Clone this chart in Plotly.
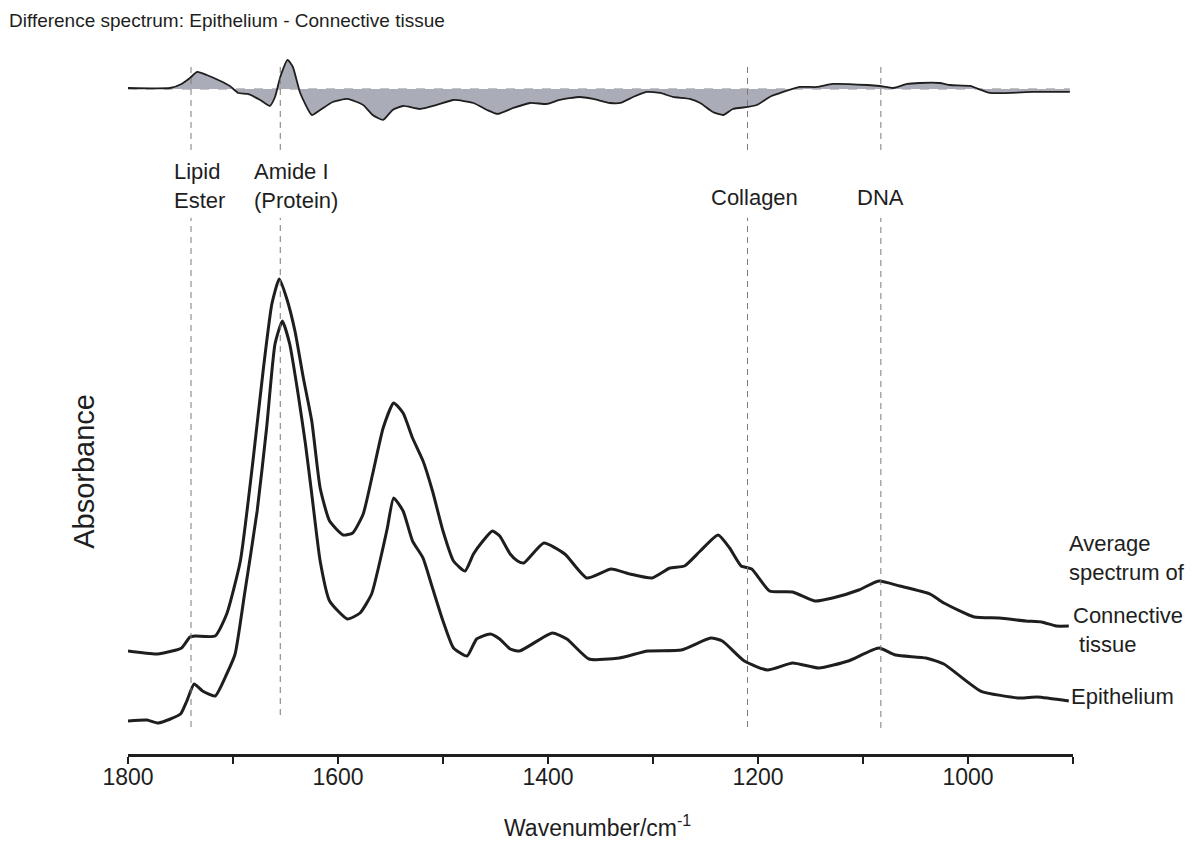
import plotly.graph_objects as go

# ---------------- data ----------------
wn_conn = [1800, 1772, 1749, 1741, 1736, 1717, 1706, 1693, 1681, 1671, 1663, 1656, 1649, 1641,
           1633, 1625, 1617, 1608, 1595, 1586, 1576, 1567, 1557, 1547, 1538, 1529, 1519, 1510,
           1500, 1490, 1479, 1471, 1462, 1453, 1446, 1436, 1429, 1423, 1404, 1384, 1363, 1340,
           1322, 1301, 1284, 1270, 1255, 1238, 1227, 1216, 1206, 1189, 1167, 1146, 1129, 1104,
           1085, 1065, 1036, 1023, 994, 970, 945, 930, 916, 904]
abs_conn = [0.206, 0.200, 0.212, 0.234, 0.236, 0.236, 0.280, 0.386, 0.586, 0.772, 0.900, 0.950,
            0.912, 0.846, 0.752, 0.666, 0.532, 0.466, 0.438, 0.442, 0.480, 0.560, 0.652, 0.702,
            0.682, 0.632, 0.586, 0.526, 0.446, 0.386, 0.366, 0.400, 0.426, 0.446, 0.436, 0.400,
            0.386, 0.382, 0.422, 0.400, 0.352, 0.370, 0.360, 0.352, 0.372, 0.376, 0.406, 0.438,
            0.412, 0.376, 0.370, 0.326, 0.324, 0.306, 0.312, 0.328, 0.346, 0.336, 0.320, 0.302,
            0.274, 0.272, 0.266, 0.264, 0.256, 0.256]

wn_epi = [1800, 1782, 1771, 1750, 1744, 1737, 1729, 1717, 1706, 1698, 1689, 1677, 1668, 1660,
          1653, 1646, 1638, 1631, 1625, 1617, 1608, 1591, 1579, 1568, 1560, 1553, 1547, 1538,
          1529, 1519, 1510, 1500, 1490, 1477, 1468, 1455, 1446, 1436, 1427, 1396, 1382, 1361,
          1332, 1305, 1273, 1245, 1234, 1213, 1191, 1167, 1142, 1114, 1085, 1069, 1040, 1023,
          988, 951, 934, 904]
abs_epi = [0.066, 0.068, 0.062, 0.080, 0.106, 0.140, 0.126, 0.116, 0.160, 0.200, 0.320, 0.486,
           0.652, 0.820, 0.866, 0.820, 0.720, 0.620, 0.520, 0.386, 0.306, 0.270, 0.282, 0.320,
           0.386, 0.452, 0.512, 0.486, 0.426, 0.392, 0.332, 0.266, 0.212, 0.196, 0.230, 0.240,
           0.230, 0.210, 0.206, 0.242, 0.230, 0.190, 0.192, 0.206, 0.208, 0.232, 0.226, 0.186,
           0.168, 0.182, 0.172, 0.186, 0.212, 0.198, 0.192, 0.180, 0.126, 0.112, 0.114, 0.106]

wn_diff = [1800, 1760, 1749, 1741, 1734, 1725, 1712, 1703, 1695, 1686, 1674, 1665, 1660, 1655,
           1648, 1643, 1636, 1625, 1617, 1605, 1591, 1576, 1567, 1557, 1548, 1538, 1522, 1506,
           1490, 1471, 1458, 1448, 1433, 1417, 1401, 1389, 1370, 1357, 1341, 1331, 1319, 1306,
           1293, 1281, 1265, 1255, 1243, 1233, 1224, 1210, 1201, 1189, 1176, 1160, 1144, 1129,
           1096, 1084, 1071, 1058, 1046, 1027, 1017, 998, 979, 938, 903]
diff_vals = [0.033, 0.033, 0.167, 0.367, 0.567, 0.467, 0.267, 0.100, -0.133, -0.167, -0.367,
             -0.567, -0.267, 0.400, 0.967, 0.733, -0.133, -0.867, -0.700, -0.433, -0.333, -0.533,
             -0.867, -1.033, -0.700, -0.567, -0.667, -0.533, -0.367, -0.467, -0.700, -0.833,
             -0.633, -0.467, -0.500, -0.367, -0.267, -0.333, -0.467, -0.467, -0.267, -0.100,
             -0.133, -0.267, -0.333, -0.467, -0.767, -0.867, -0.667, -0.600, -0.533, -0.267,
             -0.100, 0.067, 0.067, 0.167, 0.133, 0.100, 0.033, 0.167, 0.200, 0.200, 0.133,
             0.100, -0.133, -0.100, -0.100]

band_pos = [1740, 1655, 1210, 1083]
x_ticks = [1800, 1600, 1400, 1200, 1000]
x_minor_ticks = [1700, 1500, 1300, 1100, 900]

FONT = "Liberation Sans, Arial, Helvetica, sans-serif"
INK = "#1e1e1e"

fig = go.Figure()

fig.add_trace(go.Scatter(x=wn_conn, y=abs_conn, mode="lines",
                         line=dict(color=INK, width=3, shape="spline", smoothing=0.5),
                         showlegend=False, xaxis="x", yaxis="y"))
fig.add_trace(go.Scatter(x=wn_epi, y=abs_epi, mode="lines",
                         line=dict(color=INK, width=3, shape="spline", smoothing=0.5),
                         showlegend=False, xaxis="x", yaxis="y"))
fig.add_trace(go.Scatter(x=wn_diff, y=diff_vals, mode="lines", fill="tozeroy",
                         fillcolor="rgb(170,172,184)",
                         line=dict(color=INK, width=1.8, shape="spline", smoothing=0.5),
                         showlegend=False, xaxis="x2", yaxis="y2"))

# zero line of the difference spectrum
fig.add_shape(type="line", xref="x2", yref="y2", x0=wn_diff[0], x1=wn_diff[-1], y0=0, y1=0,
              line=dict(color="#8a8a8a", width=1, dash="dash"), layer="below")

# vertical band markers (two segments each, gap for labels)
bottom_ends = [0.0378, 0.0546, 0.0378, 0.0364]
for b, yb in zip(band_pos, bottom_ends):
    fig.add_shape(type="line", xref="x", yref="paper", x0=b, x1=b, y0=0.846, y1=0.968,
                  line=dict(color="#7a7a7a", width=1, dash="6px,5px"))
    fig.add_shape(type="line", xref="x", yref="paper", x0=b, x1=b, y0=yb, y1=0.751,
                  line=dict(color="#7a7a7a", width=1, dash="6px,5px"))

ann = []
def add_text(text, x, y, xref="paper", yref="paper", size=20, xanchor="left", align="left",
             textangle=0):
    ann.append(dict(text=text, x=x, y=y, xref=xref, yref=yref, showarrow=False,
                    font=dict(family=FONT, size=size, color=INK), xanchor=xanchor,
                    yanchor="middle", align=align, textangle=textangle))

add_text("Difference spectrum: Epithelium - Connective tissue", -0.128, 1.028, size=19)
add_text("Lipid<br>Ester", 1758, 0.795, xref="x", size=22)
add_text("Amide I<br>(Protein)", 1682, 0.795, xref="x", size=22)
add_text("Collagen", 1203, 0.780, xref="x", size=22, xanchor="center", align="center")
add_text("DNA", 1083, 0.780, xref="x", size=22, xanchor="center", align="center")
add_text("Average<br>spectrum of", 0.994, 0.2745, size=22)
add_text("Connective<br> tissue", 0.998, 0.174, size=22)
add_text("Epithelium", 0.996, 0.080, size=22)
add_text("Absorbance", -0.046, 0.396, size=29, xanchor="center", align="center", textangle=-90)
add_text("Wavenumber/cm<sup>-1</sup>", 0.497, -0.101, size=23, xanchor="center", align="center")

fig.update_layout(
    width=1200, height=866,
    margin=dict(l=120, r=135, t=32, b=120),
    paper_bgcolor="white", plot_bgcolor="white",
    font=dict(family=FONT, color=INK),
    annotations=ann,
    xaxis=dict(range=[1800, 900], domain=[0, 1], anchor="y",
               showline=True, linecolor=INK, linewidth=3, mirror=False,
               showgrid=False, zeroline=False,
               tickmode="array", tickvals=x_ticks,
               ticks="outside", ticklen=7, tickwidth=2, tickcolor=INK,
               ticklabelstandoff=-7,
               tickfont=dict(family=FONT, size=23, color=INK),
               minor=dict(tickmode="array", tickvals=x_minor_ticks, ticks="outside",
                          ticklen=7, tickwidth=2, tickcolor=INK, showgrid=False)),
    yaxis=dict(range=[0, 1.2], domain=[0, 0.8403], anchor="x",
               showline=False, showgrid=False, zeroline=False, showticklabels=False, ticks=""),
    xaxis2=dict(range=[1800, 900], domain=[0, 1], anchor="y2", matches="x",
                showline=False, showgrid=False, zeroline=False, showticklabels=False, ticks=""),
    yaxis2=dict(range=[-1.2, 1.2], domain=[0.881, 0.9818], anchor="x2",
                showline=False, showgrid=False, zeroline=False, showticklabels=False, ticks=""),
)

fig.write_html("out.html")
